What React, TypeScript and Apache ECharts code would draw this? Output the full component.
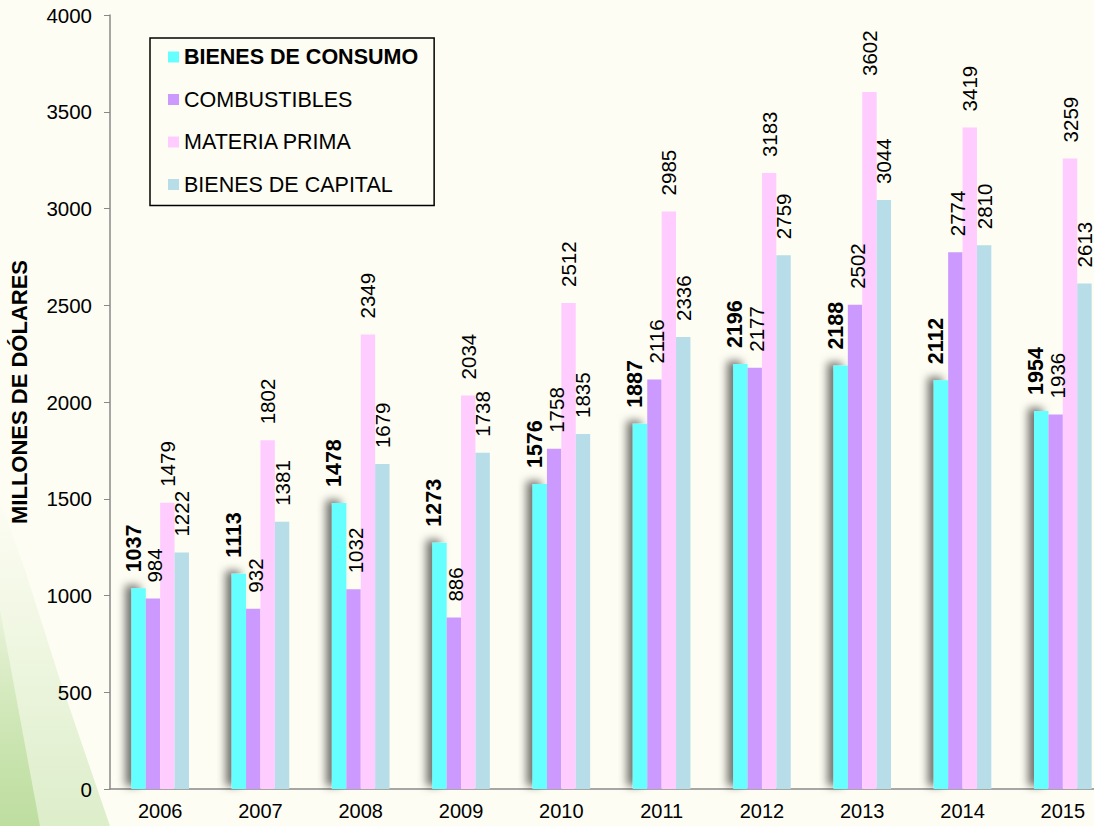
import React, { useEffect, useRef } from "react";
import * as echarts from "echarts";

const years = ["2006", "2007", "2008", "2009", "2010", "2011", "2012", "2013", "2014", "2015"];
const seriesNames = ["BIENES DE CONSUMO", "COMBUSTIBLES", "MATERIA PRIMA", "BIENES DE CAPITAL"];
const consumo = [1037, 1113, 1478, 1273, 1576, 1887, 2196, 2188, 2112, 1954];
const combustibles = [984, 932, 1032, 886, 1758, 2116, 2177, 2502, 2774, 1936];
const materiaPrima = [1479, 1802, 2349, 2034, 2512, 2985, 3183, 3602, 3419, 3259];
const capital = [1222, 1381, 1679, 1738, 1835, 2336, 2759, 3044, 2810, 2613];
const colors = ["#66ffff", "#cc99ff", "#ffccff", "#b7dde8"];
const labelOffsets = [-5, 2, 0, 0];

export default function App() {
  const ref = useRef<HTMLDivElement>(null);
  useEffect(() => {
    if (!ref.current) return;
    const chart = echarts.init(ref.current, null, { renderer: "svg" });
    const font = "Arial, 'Liberation Sans', sans-serif";
    const values = [consumo, combustibles, materiaPrima, capital];
    const series = values.map((data, i) => ({
      name: seriesNames[i],
      type: "bar",
      data,
      barWidth: 14.4,
      barGap: "0%",
      itemStyle: i === 0
        ? { color: colors[i], shadowColor: "rgba(0,0,0,0.55)", shadowBlur: 8, shadowOffsetX: -6, shadowOffsetY: -3 }
        : { color: colors[i] },
      label: {
        show: true,
        position: "top",
        rotate: 90,
        align: "left",
        verticalAlign: "middle",
        distance: 16,
        offset: [0, labelOffsets[i]],
        fontFamily: font,
        fontSize: i === 0 ? 21.5 : 20.5,
        fontWeight: i === 0 ? "bold" : "normal",
        color: "#000",
        textShadowBlur: 0,
        textShadowColor: "transparent",
        textBorderWidth: 0,
      },
      z: 3,
    }));
    chart.setOption({
      animation: false,
      backgroundColor: "#fdfdf3",
      textStyle: { fontFamily: font },
      graphic: [
        {
          type: "polygon",
          z: -10,
          silent: true,
          shape: { points: [[0, 500], [0, 826], [110, 826], [60, 680], [25, 570]] },
          style: {
            fill: new echarts.graphic.LinearGradient(0, 0, 0, 1, [
              { offset: 0, color: "rgba(215,235,195,0)" },
              { offset: 1, color: "rgba(215,235,195,0.85)" },
            ]),
          },
        },
        {
          type: "polygon",
          z: -9,
          silent: true,
          shape: { points: [[0, 610], [0, 826], [40, 826]] },
          style: {
            fill: new echarts.graphic.LinearGradient(0, 0, 0, 1, [
              { offset: 0, color: "rgba(190,222,160,0.15)" },
              { offset: 1, color: "rgba(190,222,160,1)" },
            ]),
          },
        },
      ],
      legend: {
        orient: "vertical",
        left: 150,
        top: 38,
        itemWidth: 11,
        itemHeight: 11,
        itemGap: 20.5,
        icon: "rect",
        borderColor: "#000",
        borderWidth: 1.5,
        padding: [8, 16, 10, 18],
        textStyle: { fontFamily: font, fontSize: 21.5, color: "#000", lineHeight: 22 },
        data: [
          { name: seriesNames[0], textStyle: { fontWeight: "bold" } },
          { name: seriesNames[1] },
          { name: seriesNames[2] },
          { name: seriesNames[3] },
        ],
      },
      grid: { left: 110, top: 15, bottom: 37, right: -19, outerBoundsMode: "none" },
      xAxis: {
        type: "category",
        data: years,
        axisLine: { lineStyle: { color: "#888", width: 1.5 } },
        axisTick: { show: false },
        axisLabel: { fontFamily: font, fontSize: 20, color: "#000", margin: 12 },
      },
      yAxis: {
        type: "value",
        min: 0,
        max: 4000,
        interval: 500,
        name: "MILLONES DE DÓLARES",
        nameLocation: "middle",
        nameGap: 80,
        nameTextStyle: { fontFamily: font, fontSize: 22, fontWeight: "bold", color: "#000", padding: [0, 0, 0, 20] },
        axisLine: { show: true, lineStyle: { color: "#888", width: 1.5 } },
        axisTick: { show: true, length: 6, lineStyle: { color: "#888" } },
        splitLine: { show: false },
        axisLabel: { fontFamily: font, fontSize: 20.5, color: "#000", margin: 18, formatter: (v: number) => String(v) },
      },
      series,
    });
    return () => chart.dispose();
  }, []);
  return <div ref={ref} style={{ width: 1094, height: 826, position: "absolute", left: 0, top: 0 }} />;
}
